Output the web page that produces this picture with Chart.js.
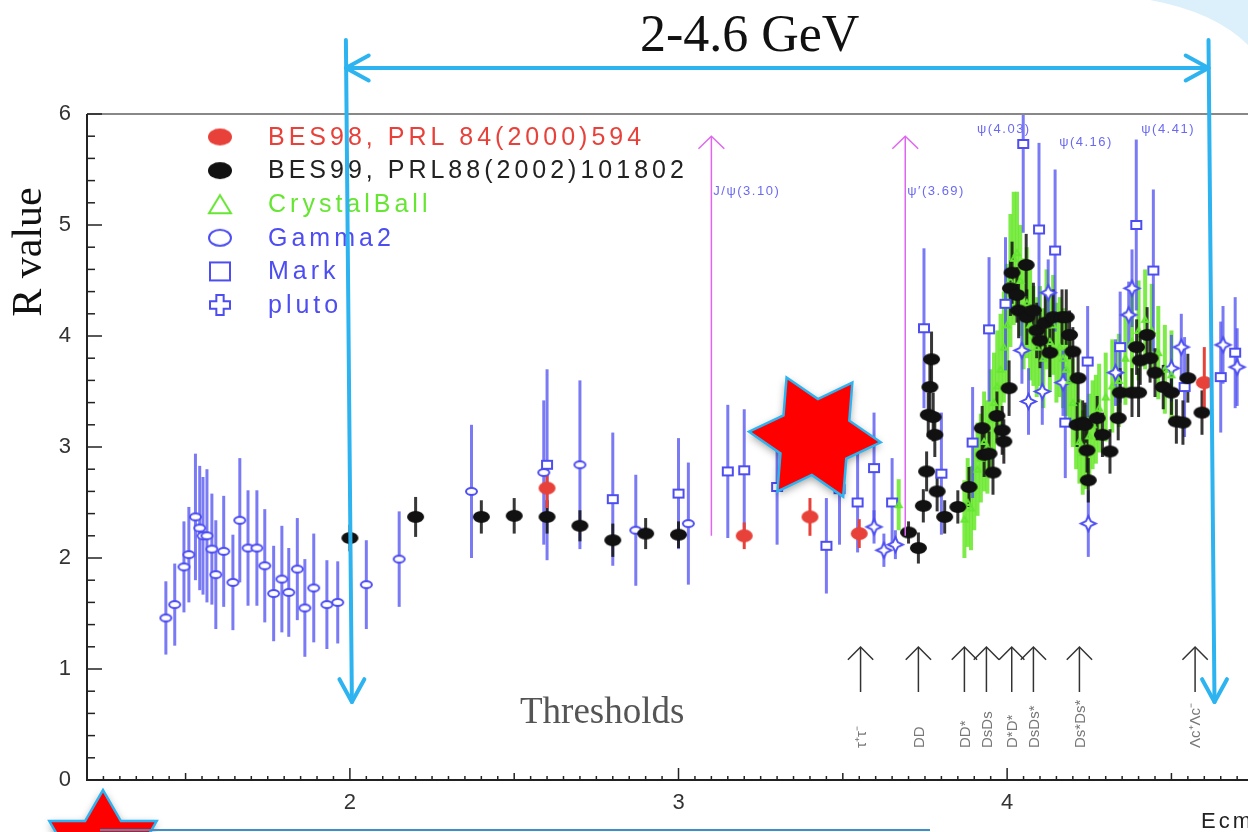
<!DOCTYPE html>
<html>
<head>
<meta charset="utf-8">
<title>R value 2-4.6 GeV</title>
<script src="https://cdn.jsdelivr.net/npm/chart.js@4.4.0/dist/chart.umd.min.js"></script>
<style>
  html, body { margin: 0; padding: 0; background: #fff; }
  canvas { display: block; }
</style>
</head>
<body>
<canvas id="rChart" width="1248" height="832"></canvas>
<script>
// ---- data (E in GeV, R, error) ----
const bes98E = [2.60, 3.20, 3.40, 3.55, 4.60];
const bes98R = [2.63, 2.20, 2.37, 2.22, 3.58];
const bes98Err = [0.18, 0.12, 0.17, 0.13, 0.32];

const bes99E = [2.00, 2.20, 2.40, 2.50, 2.60, 2.70, 2.80, 2.90, 3.00,
  3.70, 3.73, 3.745, 3.755, 3.76, 3.765, 3.77, 3.775, 3.78, 3.787,
  3.81, 3.85, 3.884, 3.924, 3.93, 3.945, 3.957, 3.969, 3.985, 3.99,
  4.006, 4.01, 4.015, 4.03, 4.035, 4.058, 4.06, 4.08, 4.09, 4.10,
  4.116, 4.13, 4.14, 4.167, 4.18, 4.19, 4.20, 4.213, 4.216, 4.23,
  4.237, 4.243, 4.247, 4.274, 4.29, 4.313, 4.338, 4.344, 4.38, 4.394,
  4.40, 4.405, 4.426, 4.435, 4.45, 4.475, 4.50, 4.515, 4.535, 4.55,
  4.593];
const bes99R = [2.18, 2.37, 2.37, 2.38, 2.37, 2.29, 2.16, 2.22, 2.21,
  2.23, 2.09, 2.47, 2.78, 3.29, 3.54, 3.79, 3.27, 3.11, 2.60,
  2.37, 2.46, 2.64, 3.17, 2.93, 2.94, 2.77, 3.28, 3.15, 3.05,
  3.53, 4.43, 4.57, 4.37, 4.23, 4.64, 4.17, 4.23, 4.05, 3.96,
  4.12, 3.85, 4.17, 4.17, 4.17, 4.01, 3.86, 3.20, 3.62, 3.22,
  3.20, 2.97, 2.70, 3.26, 3.11, 2.96, 3.26, 3.49, 3.49, 3.90,
  3.49, 3.78, 4.01, 3.80, 3.67, 3.54, 3.49, 3.23, 3.22, 3.62,
  3.31];
const bes99Err = [0.12, 0.18, 0.15, 0.16, 0.15, 0.14, 0.15, 0.14, 0.12,
  0.10, 0.14, 0.15, 0.18, 0.2, 0.22, 0.25, 0.22, 0.2, 0.18,
  0.15, 0.15, 0.18, 0.2, 0.2, 0.2, 0.2, 0.22, 0.22, 0.2,
  0.25, 0.25, 0.28, 0.25, 0.25, 0.28, 0.25, 0.25, 0.25, 0.25,
  0.25, 0.22, 0.25, 0.25, 0.25, 0.22, 0.22, 0.2, 0.22, 0.2,
  0.2, 0.2, 0.2, 0.2, 0.2, 0.2, 0.2, 0.22, 0.22, 0.25,
  0.22, 0.22, 0.25, 0.22, 0.22, 0.2, 0.2, 0.2, 0.2, 0.22,
  0.2];

const crystalE = [3.67, 3.87, 3.88, 3.89, 3.90, 3.91, 3.92, 3.93, 3.94, 3.95, 3.96, 3.97, 3.98, 3.99,
  4.00, 4.01, 4.02, 4.03, 4.04, 4.05, 4.06, 4.07, 4.08, 4.09, 4.10, 4.11, 4.12, 4.13, 4.14, 4.15,
  4.16, 4.17, 4.18, 4.19, 4.20, 4.21, 4.22, 4.23, 4.24, 4.25, 4.26, 4.27, 4.28,
  4.30, 4.32, 4.34, 4.36, 4.38, 4.40, 4.42, 4.44, 4.46, 4.48, 4.50];
const crystalR = [2.48, 2.35, 2.5, 2.45, 2.65, 2.8, 2.9, 3.05, 3.0, 3.25, 3.4, 3.55, 3.7, 3.9,
  4.1, 4.5, 4.7, 4.75, 4.5, 4.2, 4.3, 4.1, 4.0, 3.9, 4.0, 3.8, 4.15, 3.95, 4.1, 3.85,
  3.9, 3.8, 3.7, 3.6, 3.4, 3.2, 3.05, 2.95, 3.0, 3.1, 3.2, 3.25, 3.35,
  3.45, 3.55, 3.6, 3.8, 3.95, 4.05, 4.15, 4.05, 3.85, 3.7, 3.65];
const crystalErr = [0.23, 0.35, 0.4, 0.38, 0.4, 0.42, 0.4, 0.45, 0.42, 0.45, 0.45, 0.5, 0.5, 0.5,
  0.55, 0.6, 0.6, 0.55, 0.5, 0.5, 0.5, 0.5, 0.45, 0.45, 0.45, 0.45, 0.45, 0.45, 0.45, 0.45,
  0.45, 0.45, 0.42, 0.42, 0.4, 0.4, 0.38, 0.38, 0.38, 0.38, 0.4, 0.4, 0.4,
  0.4, 0.42, 0.42, 0.42, 0.45, 0.45, 0.45, 0.42, 0.42, 0.4, 0.4];

const gammaE = [1.44, 1.467, 1.495, 1.51, 1.53, 1.543, 1.553, 1.565, 1.58, 1.592, 1.616, 1.644,
  1.665, 1.69, 1.717, 1.741, 1.768, 1.793, 1.814, 1.84, 1.863, 1.89, 1.93, 1.963,
  2.05, 2.15, 2.37, 2.59, 2.70, 2.87, 3.03];
const gammaR = [1.46, 1.58, 1.92, 2.03, 2.37, 2.27, 2.2, 2.2, 2.08, 1.85, 2.06, 1.78,
  2.34, 2.09, 2.09, 1.93, 1.68, 1.81, 1.69, 1.9, 1.55, 1.73, 1.58, 1.6,
  1.76, 1.99, 2.6, 2.77, 2.84, 2.25, 2.31];
const gammaErr = [0.33, 0.37, 0.41, 0.43, 0.57, 0.56, 0.53, 0.6, 0.5, 0.49, 0.5, 0.43,
  0.56, 0.52, 0.52, 0.51, 0.43, 0.48, 0.4, 0.46, 0.44, 0.49, 0.4, 0.37,
  0.4, 0.43, 0.6, 0.65, 0.76, 0.5, 0.55];

const markE = [2.60, 2.80, 3.00, 3.15, 3.20, 3.30, 3.45, 3.49, 3.545, 3.595, 3.65, 3.747, 3.80,
  3.895, 3.945, 3.995, 4.049, 4.097, 4.146, 4.177, 4.245, 4.344, 4.393, 4.445, 4.54, 4.65, 4.694];
const markR = [2.84, 2.53, 2.58, 2.78, 2.79, 2.64, 2.11, 2.62, 2.5, 2.81, 2.5, 4.07, 2.76,
  3.04, 4.06, 4.29, 5.73, 4.96, 4.77, 3.22, 3.77, 3.9, 5.0, 4.59, 3.54, 3.63, 3.85];
const markErr = [0.86, 0.6, 0.5, 0.6, 0.55, 0.52, 0.43, 0.5, 0.45, 0.5, 0.4, 0.72, 0.55,
  0.5, 0.65, 0.6, 0.8, 0.78, 0.73, 0.5, 0.5, 0.5, 0.77, 0.73, 0.45, 0.5, 0.5];

const plutoE = [3.595, 3.625, 3.66, 4.045, 4.065, 4.107, 4.125, 4.17, 4.247, 4.33, 4.37, 4.38,
  4.50, 4.53, 4.657, 4.70];
const plutoR = [2.28, 2.07, 2.12, 3.87, 3.41, 3.5, 4.39, 3.58, 2.31, 3.67, 4.19, 4.43,
  3.71, 3.9, 3.92, 3.72];
const plutoErr = [0.15, 0.15, 0.13, 0.3, 0.3, 0.3, 0.3, 0.3, 0.3, 0.3, 0.3, 0.35,
  0.3, 0.3, 0.35, 0.35];

const seriesNames = ["BES98, PRL 84(2000)594", "BES99, PRL88(2002)101802", "CrystalBall", "Gamma2", "Mark", "pluto"];

const xTickLabels = [2, 3, 4];
const yTickLabels = [0, 1, 2, 3, 4, 5, 6];

const resonanceE = [3.10, 3.69];
const resonanceLabels = ["J/\u03c8(3.10)", "\u03c8\u2032(3.69)"];
const peakLabelE = [3.99, 4.24, 4.49];
const peakLabelR = [5.86, 5.74, 5.86];
const peakLabels = ["\u03c8(4.03)", "\u03c8(4.16)", "\u03c8(4.41)"];

const thresholdE = [3.554, 3.73, 3.87, 3.937, 4.014, 4.08, 4.22, 4.572];
const thresholdLabels = ["\u03c4\u207a\u03c4\u207b", "DD", "DD*", "DsDs", "D*D*", "DsDs*", "Ds*Ds*", "\u039bc\u207a\u039bc\u207b"];

const rangeE = [2.0, 4.625];
const rangeLabel = "2-4.6 GeV";

// ---- colours ----
const RED = "#e8413a";
const BLACK = "#111111";
const GREEN = "#66e633";
const BLUE = "#4d4df2";
const SKY = "#2db4f0";
const SANS = "'Liberation Sans', Arial, sans-serif";
const SERIF = "'Liberation Serif', 'Times New Roman', serif";

// marker images used as Chart.js pointStyle
const makeMarker = (kind, w, h, color) => {
  const c = document.createElement("canvas");
  c.width = w + 4;
  c.height = h + 4;
  const g = c.getContext("2d");
  const cx = c.width / 2;
  const cy = c.height / 2;
  g.lineWidth = 2;
  g.strokeStyle = color;
  g.fillStyle = color;
  g.beginPath();
  if (kind === "dot") {
    g.ellipse(cx, cy, w / 2, h / 2, 0, 0, 2 * Math.PI);
    g.fill();
    return c;
  }
  if (kind === "ring") {
    g.ellipse(cx, cy, w / 2 - 1, h / 2 - 1, 0, 0, 2 * Math.PI);
  } else if (kind === "box") {
    g.rect(cx - w / 2 + 1, cy - h / 2 + 1, w - 2, h - 2);
  } else if (kind === "tri") {
    g.moveTo(cx, cy - h / 2 + 1);
    g.lineTo(cx + w / 2 - 1, cy + h / 2 - 1);
    g.lineTo(cx - w / 2 + 1, cy + h / 2 - 1);
    g.closePath();
  } else if (kind === "plus") {
    const s = w / 2 - 1;
    const t = w / 6;
    const pts = [[-t, -s], [t, -s], [t, -t], [s, -t], [s, t], [t, t], [t, s], [-t, s], [-t, t], [-s, t], [-s, -t], [-t, -t]];
    pts.forEach(([px, py], k) => (k ? g.lineTo(cx + px, cy + py) : g.moveTo(cx + px, cy + py)));
    g.closePath();
  } else if (kind === "star4") {
    const s = w / 2 - 1;
    const t = w / 7;
    const pts = [[0, -s], [t, -t], [s, 0], [t, t], [0, s], [-t, t], [-s, 0], [-t, -t]];
    pts.forEach(([px, py], k) => (k ? g.lineTo(cx + px, cy + py) : g.moveTo(cx + px, cy + py)));
    g.closePath();
  }
  g.fillStyle = "#fff";
  if (kind !== "tri") g.fill();
  g.stroke();
  return c;
};

const markers = {
  bes98: makeMarker("dot", 17, 13, RED),
  bes99: makeMarker("dot", 17, 12, BLACK),
  crystal: makeMarker("tri", 8, 7, GREEN),
  gamma: makeMarker("ring", 13, 9, BLUE),
  mark: makeMarker("box", 12, 10, BLUE),
  pluto: makeMarker("star4", 17, 17, BLUE),
};
const legendMarkers = [
  makeMarker("dot", 24, 17, RED),
  makeMarker("dot", 24, 17, BLACK),
  makeMarker("tri", 24, 20, GREEN),
  makeMarker("ring", 24, 18, BLUE),
  makeMarker("box", 22, 20, BLUE),
  makeMarker("plus", 22, 22, BLUE),
];
const legendColors = [RED, "#222", GREEN, BLUE, BLUE, BLUE];

const toPoints = (xs, ys, es) => xs.map((v, i) => ({ x: v, y: ys[i], e: es[i] || 0 }));

const datasets = [
  { label: seriesNames[0], data: toPoints(bes98E, bes98R, bes98Err), pointStyle: markers.bes98, barColor: RED, barWidth: 3 },
  { label: seriesNames[1], data: toPoints(bes99E, bes99R, bes99Err), pointStyle: markers.bes99, barColor: "rgba(20,20,20,0.85)", barWidth: 3 },
  { label: seriesNames[2], data: toPoints(crystalE, crystalR, crystalErr), pointStyle: markers.crystal, barColor: "rgba(102,232,40,0.85)", barWidth: 4 },
  { label: seriesNames[3], data: toPoints(gammaE, gammaR, gammaErr), pointStyle: markers.gamma, barColor: "rgba(77,77,242,0.75)", barWidth: 3 },
  { label: seriesNames[4], data: toPoints(markE, markR, markErr), pointStyle: markers.mark, barColor: "rgba(77,77,242,0.75)", barWidth: 3 },
  { label: seriesNames[5], data: toPoints(plutoE, plutoR, plutoErr), pointStyle: markers.pluto, barColor: "rgba(77,77,242,0.75)", barWidth: 3 },
];

// vertical error bars, drawn under the markers
const errorBars = {
  id: "errorBars",
  beforeDatasetsDraw(chart) {
    const { ctx, chartArea: a, scales: { x, y } } = chart;
    ctx.save();
    ctx.beginPath();
    ctx.rect(a.left, a.top, a.right - a.left, a.bottom - a.top);
    ctx.clip();
    const order = [2, 3, 4, 5, 1, 0];
    order.forEach((i) => {
      const ds = chart.data.datasets[i];
      ctx.strokeStyle = ds.barColor;
      ctx.lineWidth = ds.barWidth;
      ds.data.forEach((p) => {
        const px = x.getPixelForValue(p.x);
        ctx.beginPath();
        ctx.moveTo(px, y.getPixelForValue(p.y - p.e));
        ctx.lineTo(px, y.getPixelForValue(p.y + p.e));
        ctx.stroke();
      });
    });
    ctx.restore();
  },
};

const vHead = (ctx, tx, ty, ang, len, spread) => {
  ctx.beginPath();
  ctx.moveTo(tx + len * Math.cos(ang + Math.PI - spread), ty + len * Math.sin(ang + Math.PI - spread));
  ctx.lineTo(tx, ty);
  ctx.lineTo(tx + len * Math.cos(ang + Math.PI + spread), ty + len * Math.sin(ang + Math.PI + spread));
  ctx.stroke();
};

const star6 = (ctx, cx, cy, r, rot) => {
  ctx.beginPath();
  for (let k = 0; k < 12; k++) {
    const rr = k % 2 ? r / Math.sqrt(3) : r;
    const ang = rot + (k * Math.PI) / 6;
    ctx.lineTo(cx + rr * Math.cos(ang), cy + rr * Math.sin(ang));
  }
  ctx.closePath();
  ctx.save();
  ctx.shadowColor = "rgba(0,0,0,0.4)";
  ctx.shadowBlur = 8;
  ctx.shadowOffsetY = 3;
  ctx.fillStyle = "#ff0000";
  ctx.fill();
  ctx.restore();
  ctx.strokeStyle = SKY;
  ctx.lineWidth = 2.5;
  ctx.stroke();
};

// frame, ticks, legend and all the slide annotations
const decorations = {
  id: "decorations",
  afterDatasetsDraw(chart) {
    const { ctx, chartArea: a, scales: { x, y } } = chart;
    ctx.save();

    // frame
    ctx.strokeStyle = "#888";
    ctx.lineWidth = 2;
    ctx.beginPath();
    ctx.moveTo(a.left, a.top);
    ctx.lineTo(a.right, a.top);
    ctx.stroke();
    ctx.strokeStyle = "#222";
    ctx.beginPath();
    ctx.moveTo(a.left, a.top);
    ctx.lineTo(a.left, a.bottom);
    ctx.lineTo(a.right, a.bottom);
    ctx.stroke();

    // inward ticks
    ctx.lineWidth = 1.5;
    for (let v = 0; v <= 6.001; v += 0.2) {
      const py = y.getPixelForValue(v);
      const major = Math.abs(v - Math.round(v)) < 0.01;
      ctx.beginPath();
      ctx.moveTo(a.left, py);
      ctx.lineTo(a.left + (major ? 15 : 8), py);
      ctx.stroke();
    }
    for (let v = 1.25; v < x.max; v += 0.05) {
      const px = x.getPixelForValue(v);
      const major = Math.abs(v - Math.round(v)) < 0.01;
      const half = Math.abs(v * 2 - Math.round(v * 2)) < 0.01;
      ctx.beginPath();
      ctx.moveTo(px, a.bottom);
      ctx.lineTo(px, a.bottom - (major ? 12 : half ? 7 : 4));
      ctx.stroke();
    }

    // legend
    ctx.textBaseline = "middle";
    ctx.textAlign = "left";
    ctx.font = "25px " + SANS;
    ctx.letterSpacing = "4px";
    seriesNames.forEach((name, i) => {
      const ly = 137 + i * 33.6;
      const m = legendMarkers[i];
      ctx.drawImage(m, 220 - m.width / 2, ly - m.height / 2);
      ctx.fillStyle = legendColors[i];
      ctx.fillText(name, 268, ly + 1);
    });

    // resonance arrows
    ctx.letterSpacing = "1.5px";
    ctx.font = "13px " + SANS;
    resonanceE.forEach((e, i) => {
      const px = x.getPixelForValue(e);
      const top = y.getPixelForValue(5.8);
      ctx.strokeStyle = "#e066f2";
      ctx.lineWidth = 1.5;
      ctx.beginPath();
      ctx.moveTo(px, y.getPixelForValue(2.2));
      ctx.lineTo(px, top);
      ctx.stroke();
      vHead(ctx, px, top, -Math.PI / 2, 18, 0.8);
      ctx.fillStyle = "#6a6af0";
      ctx.fillText(resonanceLabels[i], px + 2, y.getPixelForValue(5.3));
    });
    ctx.textAlign = "center";
    peakLabels.forEach((t, i) => {
      ctx.fillText(t, x.getPixelForValue(peakLabelE[i]), y.getPixelForValue(peakLabelR[i]));
    });

    // thresholds
    ctx.strokeStyle = "#333";
    ctx.lineWidth = 1.5;
    ctx.letterSpacing = "0px";
    thresholdE.forEach((e, i) => {
      const px = x.getPixelForValue(e);
      ctx.beginPath();
      ctx.moveTo(px, 692);
      ctx.lineTo(px, 648);
      ctx.stroke();
      vHead(ctx, px, 647, -Math.PI / 2, 18, 0.78);
      ctx.save();
      ctx.translate(px + 1, 748);
      ctx.rotate(-Math.PI / 2);
      ctx.textAlign = "left";
      ctx.font = "15px " + SANS;
      ctx.fillStyle = "#777";
      ctx.fillText(thresholdLabels[i], 0, 0);
      ctx.restore();
    });
    ctx.font = "37px " + SERIF;
    ctx.fillStyle = "#555";
    ctx.textAlign = "left";
    ctx.fillText("Thresholds", 520, 713);

    ctx.restore();
  },
  afterDraw(chart) {
    const { ctx, scales: { x, y } } = chart;
    ctx.save();

    // axis titles
    ctx.fillStyle = "#111";
    ctx.font = "42px " + SERIF;
    ctx.textAlign = "center";
    ctx.textBaseline = "middle";
    ctx.save();
    ctx.translate(30, 252);
    ctx.rotate(-Math.PI / 2);
    ctx.fillText("R value", 0, 0);
    ctx.restore();
    ctx.textAlign = "left";
    ctx.font = "22px " + SANS;
    ctx.letterSpacing = "3px";
    ctx.fillStyle = "#222";
    ctx.fillText("Ecm (GeV)", x.getPixelForValue(4.59), 822);
    ctx.letterSpacing = "0px";

    // big star over the data and the small one at the corner
    star6(ctx, x.getPixelForValue(3.415), y.getPixelForValue(3.09), 66, Math.PI + 0.08);
    star6(ctx, 103, 852, 62, -Math.PI / 2);

    // bottom slide line
    ctx.strokeStyle = "#3d8fc6";
    ctx.lineWidth = 2;
    ctx.beginPath();
    ctx.moveTo(100, 830);
    ctx.lineTo(930, 830);
    ctx.stroke();

    // corner swoosh
    ctx.fillStyle = "#dcf0fb";
    ctx.beginPath();
    ctx.moveTo(1150, 0);
    ctx.lineTo(1248, 0);
    ctx.lineTo(1248, 45);
    ctx.quadraticCurveTo(1215, 12, 1150, 0);
    ctx.fill();

    // 2-4.6 GeV range markers
    const xl = x.getPixelForValue(rangeE[0]);
    const xr = x.getPixelForValue(rangeE[1]);
    ctx.strokeStyle = SKY;
    ctx.lineWidth = 4;
    ctx.lineCap = "round";
    ctx.lineJoin = "round";
    [xl, xr].forEach((px) => {
      ctx.beginPath();
      ctx.moveTo(px - 4, 40);
      ctx.lineTo(px + 2, 702);
      ctx.stroke();
      vHead(ctx, px + 2, 702, Math.PI / 2, 26, 0.5);
    });
    ctx.beginPath();
    ctx.moveTo(xl - 4, 68);
    ctx.lineTo(xr - 4, 68);
    ctx.stroke();
    vHead(ctx, xl - 4, 68, Math.PI, 26, 0.5);
    vHead(ctx, xr - 4, 68, 0, 26, 0.5);
    ctx.fillStyle = "#111";
    ctx.font = "52px " + SERIF;
    ctx.textBaseline = "alphabetic";
    ctx.fillText(rangeLabel, xl + 290, 51);

    ctx.restore();
  },
};

const ctx = document.getElementById("rChart").getContext("2d");
new Chart(ctx, {
  type: "scatter",
  data: { datasets },
  options: {
    responsive: false,
    animation: false,
    events: [],
    layout: { autoPadding: false, padding: { top: 114, left: 0, right: 0, bottom: 0 } },
    plugins: { legend: { display: false }, tooltip: { enabled: false } },
    elements: { point: { radius: 6 } },
    scales: {
      x: {
        type: "linear",
        min: 1.2,
        max: 4.733,
        grid: { display: false, drawTicks: false },
        border: { display: false },
        afterBuildTicks: (s) => {
          s.ticks = xTickLabels.map((v) => ({ value: v }));
        },
        afterFit: (s) => {
          s.height = 52;
        },
        ticks: { font: { family: SANS, size: 22 }, color: "#333", padding: 10, maxRotation: 0 },
      },
      y: {
        type: "linear",
        min: 0,
        max: 6,
        grid: { display: false, drawTicks: false },
        border: { display: false },
        afterBuildTicks: (s) => {
          s.ticks = yTickLabels.map((v) => ({ value: v }));
        },
        afterFit: (s) => {
          s.width = 87;
        },
        ticks: { font: { family: SANS, size: 22 }, color: "#333", padding: 16 },
      },
    },
  },
  plugins: [errorBars, decorations],
});
</script>
</body>
</html>
